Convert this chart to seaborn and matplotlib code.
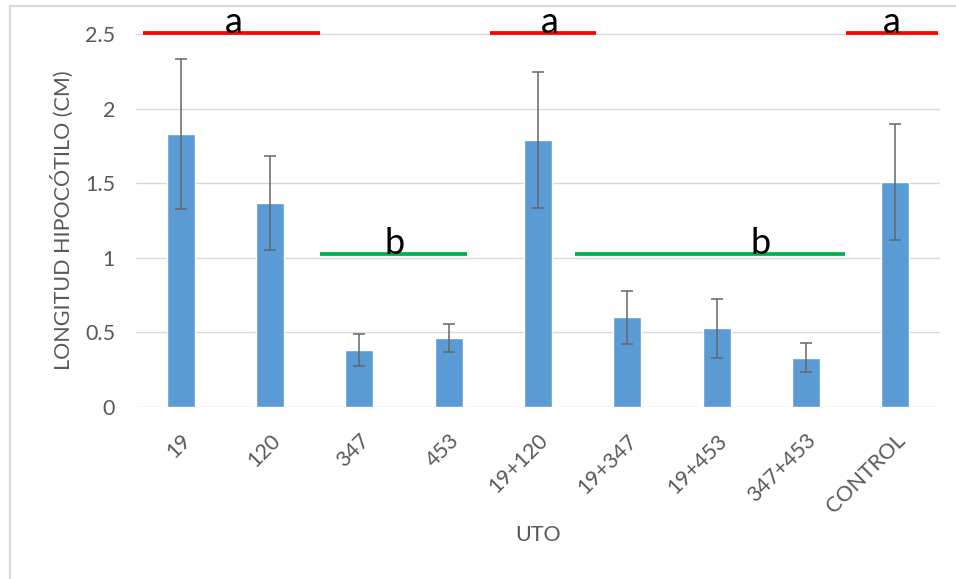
import matplotlib
matplotlib.use("Agg")
import matplotlib.pyplot as plt
from matplotlib.lines import Line2D
import seaborn as sns
import pandas as pd

# Hypocotyl length per UTO treatment (mean and error)
categories = ["19", "120", "347", "453", "19+120", "19+347", "19+453", "347+453", "CONTROL"]
means = [1.83, 1.365, 0.38, 0.46, 1.79, 0.60, 0.525, 0.33, 1.51]
errors = [0.505, 0.315, 0.11, 0.095, 0.455, 0.178, 0.198, 0.10, 0.39]

# Significance groups: (start, end, level, letter position, letter, colour)
group_spans = [
    (-0.42, 1.56, 2.51, 0.60, "a", "#FF0000"),
    (3.46, 4.65, 2.51, 4.13, "a", "#FF0000"),
    (7.45, 8.48, 2.51, 7.96, "a", "#FF0000"),
    (1.56, 3.21, 1.025, 2.39, "b", "#00B050"),
    (4.41, 7.44, 1.025, 6.49, "b", "#00B050"),
]

sns.set_theme(style="white")
plt.rcParams["font.family"] = ["Lato", "DejaVu Sans"]

W, H = 956, 579
fig = plt.figure(figsize=(W / 100, H / 100), dpi=100)
ymax = 2.62
left, right, bottom = 136 / W, 940 / W, 1 - 406.7 / H
top_px = 406.7 - ymax * 148.96
ax = fig.add_axes([left, bottom, right - left, (406.7 - top_px) / H])

df = pd.DataFrame({"UTO": categories, "value": means})
sns.barplot(data=df, x="UTO", y="value", color="#5B9BD5", saturation=1,
            width=0.31, errorbar=None, ax=ax, zorder=3)
ax.errorbar(range(len(categories)), means, yerr=errors, fmt="none",
            ecolor="#666666", elinewidth=1.1, capsize=4.3, capthick=1.1, zorder=4)

ax.set_xlim(-0.5, len(categories) - 0.5)
ax.set_ylim(0, ymax)
ax.set_yticks([0, 0.5, 1, 1.5, 2, 2.5])
ax.set_yticklabels(["0", "0.5", "1", "1.5", "2", "2.5"])
for yv in [0, 0.5, 1, 1.5, 2, 2.5]:
    ax.axhline(yv, color="#D9D9D9", lw=1.0, zorder=1)
for s in ax.spines.values():
    s.set_visible(False)

ax.tick_params(axis="both", length=0, colors="#595959", labelsize=15.5)
ax.tick_params(axis="y", pad=15)
ax.tick_params(axis="x", pad=17)
for lbl in ax.get_xticklabels():
    lbl.set_rotation(45)
    lbl.set_ha("right")
    lbl.set_rotation_mode("anchor")

ax.set_xlabel("UTO", color="#595959", fontsize=15.5)
ax.set_ylabel("LONGITUD HIPOCÓTILO (CM)", color="#595959", fontsize=15.5)
ax.yaxis.set_label_coords((62 - 136) / 804, 1.25 / ymax)
ax.xaxis.set_label_coords(0.5, -(535 - 406.7) / (406.7 - top_px))
ax.xaxis.label.set_va("center")
ax.yaxis.label.set_va("center")

for x0, x1, yv, xt, letter, col in group_spans:
    ax.hlines(yv, x0, x1, colors=col, lw=2.7, zorder=5, clip_on=False)
    ax.text(xt, yv, letter, ha="center", va="baseline", fontsize=26,
            color="black", zorder=6, clip_on=False)

# chart area frame edges
fig.add_artist(Line2D([10 / W, 10 / W], [0, 1 - 6 / H], color="#D9D9D9", lw=1.6))
fig.add_artist(Line2D([10 / W, 1], [1 - 6 / H, 1 - 6 / H], color="#D9D9D9", lw=1.6))

fig.savefig("out.png", dpi=100, facecolor="white")
